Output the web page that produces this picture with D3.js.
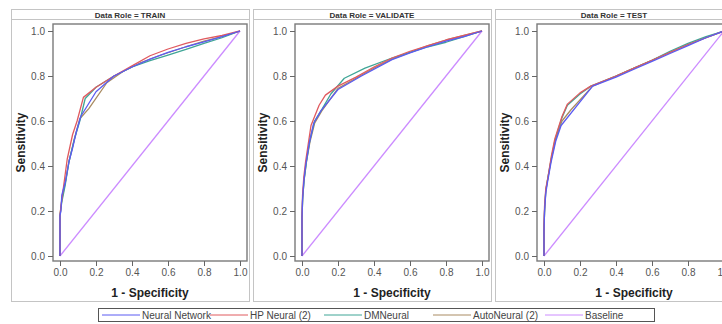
<!DOCTYPE html>
<html><head><meta charset="utf-8">
<script src="https://cdn.jsdelivr.net/npm/d3@7"></script>
<style>
body{margin:0;background:#fff;}
svg{display:block;font-family:"Liberation Sans",Arial,sans-serif;}
</style></head>
<body><svg id="c" width="722" height="324"></svg>
<script>
const roles = ["TRAIN", "VALIDATE", "TEST"];
const seriesNames = ["Neural Network", "HP Neural (2)", "DMNeural", "AutoNeural (2)", "Baseline"];
const seriesColors = ["#5b5bf2", "#e05a5f", "#3fa596", "#a98b62", "#cc8cff"];
const xTicks = [0, 0.2, 0.4, 0.6, 0.8, 1.0];
const yTicks = [0, 0.2, 0.4, 0.6, 0.8, 1.0];

// [1 - specificity, sensitivity] per series per role
const trainNN = [[0,0],[0,0.18],[0.005,0.2],[0.01,0.27],[0.03,0.33],[0.05,0.42],[0.07,0.48],[0.09,0.55],[0.115,0.62],[0.2,0.73],[0.3,0.8],[0.4,0.84],[0.5,0.875],[0.6,0.905],[0.7,0.93],[0.8,0.952],[0.9,0.975],[1,1]];
const trainHP = [[0,0],[0,0.18],[0.005,0.22],[0.02,0.31],[0.04,0.43],[0.07,0.54],[0.095,0.6],[0.13,0.705],[0.2,0.75],[0.3,0.8],[0.4,0.845],[0.5,0.89],[0.6,0.92],[0.7,0.945],[0.8,0.965],[0.9,0.98],[1,1]];
const trainDM = [[0,0],[0,0.18],[0.01,0.24],[0.03,0.32],[0.05,0.42],[0.08,0.52],[0.11,0.6],[0.14,0.7],[0.2,0.75],[0.3,0.8],[0.4,0.84],[0.5,0.868],[0.6,0.893],[0.7,0.918],[0.8,0.945],[0.9,0.97],[1,1]];
const trainAN = [[0,0],[0,0.18],[0.01,0.25],[0.03,0.33],[0.05,0.42],[0.08,0.52],[0.11,0.61],[0.16,0.655],[0.26,0.77],[0.35,0.82],[0.45,0.86],[0.55,0.89],[0.7,0.93],[0.8,0.955],[0.9,0.975],[1,1]];

const valNN = [[0,0],[0,0.17],[0.003,0.25],[0.01,0.33],[0.02,0.4],[0.04,0.5],[0.065,0.59],[0.105,0.645],[0.2,0.74],[0.33,0.8],[0.5,0.873],[0.6,0.903],[0.7,0.93],[0.8,0.955],[0.9,0.975],[1,1]];
const valHP = [[0,0],[0,0.18],[0.003,0.27],[0.01,0.35],[0.02,0.42],[0.035,0.5],[0.05,0.58],[0.095,0.67],[0.13,0.715],[0.2,0.755],[0.3,0.795],[0.4,0.84],[0.5,0.88],[0.6,0.91],[0.7,0.935],[0.8,0.96],[0.9,0.98],[1,1]];
const valDM = [[0,0],[0,0.17],[0.004,0.26],[0.012,0.34],[0.025,0.42],[0.045,0.52],[0.07,0.6],[0.113,0.655],[0.16,0.72],[0.235,0.79],[0.35,0.835],[0.5,0.88],[0.6,0.905],[0.7,0.93],[0.8,0.95],[0.9,0.975],[1,1]];
const valAN = [[0,0],[0,0.17],[0.004,0.26],[0.012,0.34],[0.025,0.42],[0.045,0.51],[0.07,0.59],[0.11,0.645],[0.2,0.745],[0.3,0.79],[0.4,0.835],[0.5,0.875],[0.6,0.905],[0.7,0.935],[0.8,0.96],[0.9,0.98],[1,1]];

const testNN = [[0,0],[0,0.11],[0.003,0.2],[0.01,0.28],[0.02,0.33],[0.04,0.42],[0.065,0.51],[0.095,0.58],[0.27,0.755],[0.4,0.795],[0.5,0.83],[0.6,0.865],[0.7,0.9],[0.8,0.935],[0.9,0.97],[1,1]];
const testHP = [[0,0],[0,0.14],[0.003,0.22],[0.01,0.3],[0.02,0.34],[0.04,0.44],[0.06,0.52],[0.08,0.57],[0.1,0.62],[0.13,0.675],[0.2,0.725],[0.26,0.755],[0.4,0.8],[0.5,0.835],[0.6,0.87],[0.7,0.905],[0.8,0.94],[0.9,0.97],[1,1]];
const testDM = [[0,0],[0,0.12],[0.004,0.22],[0.01,0.29],[0.02,0.34],[0.04,0.43],[0.06,0.51],[0.08,0.565],[0.1,0.615],[0.13,0.67],[0.2,0.72],[0.26,0.755],[0.4,0.8],[0.5,0.835],[0.6,0.87],[0.7,0.91],[0.8,0.945],[0.9,0.975],[1,1]];
const testAN = [[0,0],[0,0.13],[0.004,0.21],[0.01,0.29],[0.02,0.34],[0.04,0.43],[0.065,0.52],[0.1,0.6],[0.15,0.65],[0.27,0.755],[0.4,0.8],[0.5,0.835],[0.6,0.87],[0.7,0.905],[0.8,0.94],[0.9,0.97],[1,1]];

const baseline = [[0,0],[1,1]];

const panelSeries = [
  [trainNN, trainHP, trainDM, trainAN, baseline],
  [valNN, valHP, valDM, valAN, baseline],
  [testNN, testHP, testDM, testAN, baseline]
];

const svg = d3.select("#c");
const drawOrder = [4, 3, 2, 1, 0];

roles.forEach((role, i) => {
  const L = 11 + 242 * i;
  const g = svg.append("g");
  // panel border
  g.append("rect").attr("x", L + 0.5).attr("y", 9.5).attr("width", 238).attr("height", 292)
    .attr("fill", "#fff").attr("stroke", "#c4c4c4");
  g.append("line").attr("x1", L).attr("x2", L + 238.5).attr("y1", 19.5).attr("y2", 19.5).attr("stroke", "#c4c4c4");
  g.append("text").attr("x", L + 119).attr("y", 17.5).attr("text-anchor", "middle")
    .attr("font-size", 8).attr("font-weight", "bold").attr("fill", "#333")
    .text("Data Role = " + role);

  const x = d3.scaleLinear().domain([0, 1]).range([L + 49, L + 229]);
  const y = d3.scaleLinear().domain([0, 1]).range([256, 31]);

  // frame
  g.append("rect").attr("x", L + 42).attr("y", 24).attr("width", 194).attr("height", 237)
    .attr("fill", "none").attr("stroke", "#7a7a7a").attr("stroke-width", 1.4);

  const yAx = g.append("g").attr("transform", `translate(${L + 42},0)`)
    .call(d3.axisLeft(y).tickValues(yTicks).tickSize(5).tickPadding(3).tickFormat(d3.format(".1f")));
  const xAx = g.append("g").attr("transform", `translate(0,261)`)
    .call(d3.axisBottom(x).tickValues(xTicks).tickSize(5).tickPadding(3).tickFormat(d3.format(".1f")));
  [yAx, xAx].forEach(a => {
    a.select(".domain").remove();
    a.selectAll("line").attr("stroke", "#666");
    a.selectAll("text").attr("fill", "#555").attr("font-size", 10)
      .attr("font-family", '"Liberation Sans",Arial,sans-serif');
  });

  g.append("text").attr("x", L + 139).attr("y", 297).attr("text-anchor", "middle")
    .attr("font-size", 12).attr("font-weight", "bold").attr("fill", "#222").text("1 - Specificity");
  g.append("text").attr("transform", `translate(${L + 14},142.5) rotate(-90)`)
    .attr("text-anchor", "middle").attr("font-size", 12).attr("font-weight", "bold")
    .attr("fill", "#222").text("Sensitivity");

  const line = d3.line().x(d => x(d[0])).y(d => y(d[1]));
  drawOrder.forEach(k => {
    g.append("path").datum(panelSeries[i][k]).attr("d", line)
      .attr("fill", "none").attr("stroke", seriesColors[k]).attr("stroke-width", 1.3)
      .attr("stroke-linejoin", "round");
  });
});

// legend
const lg = svg.append("g");
lg.append("rect").attr("x", 98.5).attr("y", 308.5).attr("width", 556).attr("height", 13)
  .attr("fill", "#fff").attr("stroke", "#555").attr("stroke-width", 1);
const legendX = [102, 210, 324, 433, 545];
seriesNames.forEach((name, k) => {
  const lx = legendX[k];
  lg.append("line").attr("x1", lx).attr("x2", lx + 38).attr("y1", 315).attr("y2", 315)
    .attr("stroke", seriesColors[k]).attr("stroke-width", 1);
  lg.append("text").attr("x", lx + 40).attr("y", 318.5).attr("font-size", 10)
    .attr("fill", "#444").text(name);
});
</script>
</body></html>
